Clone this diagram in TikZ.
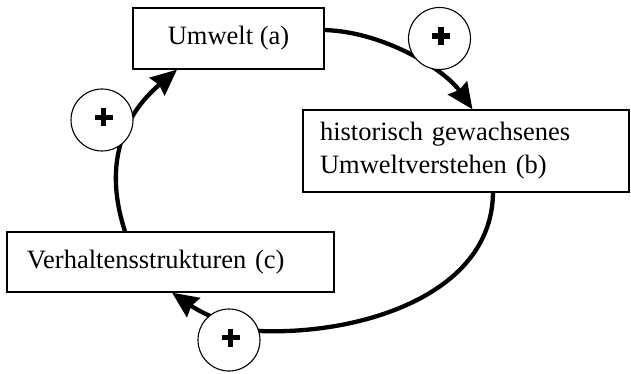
\documentclass[tikz,border=0pt]{standalone}
\usepackage{fontspec}
\setmainfont{Liberation Serif}
\usetikzlibrary{arrows.meta,backgrounds}
\begin{document}
\begin{tikzpicture}[x=1pt,y=-1pt,
  box/.style={draw, line width=1.3pt, fill=white, inner sep=0pt,
    font=\fontsize{26.5}{33}\selectfont},
  plus/.style={circle, draw, line width=1.1pt, fill=white, minimum size=62pt, inner sep=0pt,
    path picture={\draw[line width=5.5pt] ([xshift=1.5pt,yshift=2.5pt]path picture bounding box.center) +(-9pt,0) -- +(9pt,0) +(0,-9pt) -- +(0,9pt);}},
  conn/.style={line width=4.3pt, -{Stealth[length=26pt,width=23pt,inset=2.5pt]}}]
\useasboundingbox (0,0) rectangle (631,374);
\node[box, minimum width=191pt, minimum height=61pt] (a) at (228.5,38.5) {Umwelt (a)};
\node[box, minimum height=82pt, text width=292pt, inner xsep=17pt, align=left] (b) at (466,151)
  {historisch gewachsenes\\Umweltverstehen (b)};
\node[box, minimum height=60pt, text width=287pt, inner xsep=20pt, align=left] (c) at (170.5,262)
  {Verhaltensstrukturen (c)};
\node[plus] (p1) at (439.5,38.5) {};
\node[plus] (p2) at (102,120) {};
\node[plus] (p3) at (229,340) {};
\begin{scope}[on background layer]
\draw[conn] ([yshift=8.5pt]a.east) .. controls (385,32) and (445,70) .. ([xshift=6.5pt]b.north);
\draw[conn] ([xshift=27pt]b.south) .. controls (492,295) and (360,335) .. (260,331)
  .. controls (232,328) and (200,312) .. ([xshift=1.5pt]c.south);
\draw[conn] ([xshift=-45.5pt]c.north) .. controls (108,180) and (112,125) .. ([xshift=-51.5pt]a.south);
\end{scope}
\end{tikzpicture}
\end{document}
